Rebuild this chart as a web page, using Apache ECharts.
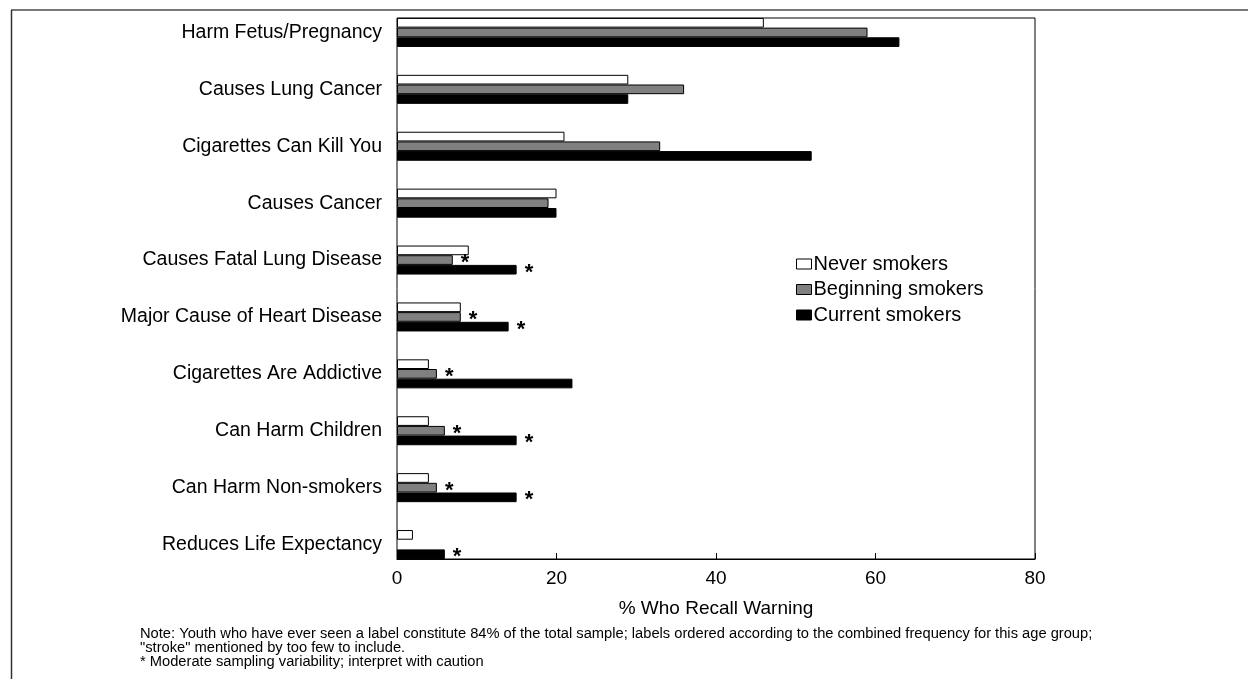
<!DOCTYPE html>
<html>
<head>
<meta charset="utf-8">
<title>Warning label recall</title>
<script src="https://cdn.jsdelivr.net/npm/echarts@6/dist/echarts.min.js"></script>
<style>
  html, body { margin: 0; padding: 0; background: #fff; }
  #chart { width: 1248px; height: 679px; }
</style>
</head>
<body>
<div id="chart"></div>
<script>
// Warning labels, listed top to bottom
const categories = [
  'Harm Fetus/Pregnancy',
  'Causes Lung Cancer',
  'Cigarettes Can Kill You',
  'Causes Cancer',
  'Causes Fatal Lung Disease',
  'Major Cause of Heart Disease',
  'Cigarettes Are Addictive',
  'Can Harm Children',
  'Can Harm Non-smokers',
  'Reduces Life Expectancy'
];

// % who recall each warning
const neverSmokers     = [46, 29, 21, 20, 9, 8, 4, 4, 4, 2];
const beginningSmokers = [59, 36, 33, 19, 7, 8, 5, 6, 5, null];
const currentSmokers   = [63, 29, 52, 20, 15, 14, 22, 15, 15, 6];

// estimates flagged for moderate sampling variability
const beginningFlagged = [false, false, false, false, true, true, true, true, true, false];
const currentFlagged   = [false, false, false, false, true, true, false, true, true, true];

const xTicks = [0, 20, 40, 60, 80];

const FONT = '"Liberation Sans", Arial, Helvetica, sans-serif';

function withFlags(values, flags) {
  return values.map((v, i) => ({
    value: v,
    label: { show: flags[i] && v != null }
  }));
}

const chart = echarts.init(document.getElementById('chart'), null, { renderer: 'canvas' });

const starLabel = {
  position: 'right',
  distance: 8,
  formatter: '*',
  color: '#000',
  fontFamily: FONT,
  fontSize: 22,
  fontWeight: 'bold',
  offset: [0, 3]
};

chart.setOption({
  animation: false,
  backgroundColor: '#fff',
  legend: {
    orient: 'vertical',
    left: 791,
    top: 249,
    itemGap: 5.5,
    itemWidth: 15,
    itemHeight: 10,
    icon: 'rect',
    textStyle: { fontFamily: FONT, fontSize: 20, color: '#000', padding: [0, 0, 0, -3] },
    data: [
      { name: 'Never smokers', itemStyle: { color: '#fff', borderColor: '#000', borderWidth: 1 } },
      { name: 'Beginning smokers', itemStyle: { color: '#808080', borderColor: '#000', borderWidth: 1 } },
      { name: 'Current smokers', itemStyle: { color: '#000', borderColor: '#000', borderWidth: 1 } }
    ]
  },
  grid: [
    // framed plot area with the value axis
    { left: 397, right: 213, top: 18, bottom: 120, show: true, borderColor: '#000', borderWidth: 1, containLabel: false },
    // band layout for the grouped bars
    { left: 397, right: 213, top: 4, bottom: 106, containLabel: false }
  ],
  xAxis: [
    {
      gridIndex: 0,
      type: 'value',
      min: xTicks[0],
      max: xTicks[xTicks.length - 1],
      interval: 20,
      name: '% Who Recall Warning',
      nameLocation: 'middle',
      nameGap: 40,
      nameTextStyle: { fontFamily: FONT, fontSize: 19, color: '#000' },
      axisLine: { show: true, lineStyle: { color: '#000', width: 1 } },
      axisTick: { show: true, inside: true, length: 6, lineStyle: { color: '#000' } },
      axisLabel: { fontFamily: FONT, fontSize: 19, color: '#000', margin: 10 },
      splitLine: { show: false }
    },
    {
      gridIndex: 1,
      type: 'value',
      min: xTicks[0],
      max: xTicks[xTicks.length - 1],
      show: false
    }
  ],
  yAxis: [
    {
      gridIndex: 0,
      type: 'value',
      show: false,
      min: 0,
      max: 1
    },
    {
      gridIndex: 1,
      type: 'category',
      inverse: true,
      data: categories,
      axisLine: { show: false },
      axisTick: { show: false },
      axisLabel: { fontFamily: FONT, fontSize: 19.5, color: '#000', margin: 15 }
    }
  ],
  series: [
    {
      name: 'Never smokers',
      type: 'bar',
      xAxisIndex: 1,
      yAxisIndex: 1,
      data: neverSmokers,
      barGap: '0%',
      barCategoryGap: '49%',
      itemStyle: { color: '#fff', borderColor: '#000', borderWidth: 1 }
    },
    {
      name: 'Beginning smokers',
      type: 'bar',
      xAxisIndex: 1,
      yAxisIndex: 1,
      data: withFlags(beginningSmokers, beginningFlagged),
      barGap: '0%',
      barCategoryGap: '49%',
      itemStyle: { color: '#808080', borderColor: '#000', borderWidth: 1 },
      label: starLabel
    },
    {
      name: 'Current smokers',
      type: 'bar',
      xAxisIndex: 1,
      yAxisIndex: 1,
      data: withFlags(currentSmokers, currentFlagged),
      barGap: '0%',
      barCategoryGap: '49%',
      itemStyle: { color: '#000', borderColor: '#000', borderWidth: 1 },
      label: starLabel
    }
  ],
  graphic: [
    // page frame
    { type: 'line', shape: { x1: 11, y1: 10, x2: 1248, y2: 10 }, style: { stroke: '#777', lineWidth: 2 } },
    { type: 'line', shape: { x1: 11.5, y1: 10, x2: 11.5, y2: 679 }, style: { stroke: '#333', lineWidth: 1.5 } },
    {
      type: 'text',
      left: 140,
      top: 626,
      style: {
        text: 'Note: Youth who have ever seen a label constitute 84% of the total sample; labels ordered according to the combined frequency for this age group;\n"stroke" mentioned by too few to include.\n* Moderate sampling variability; interpret with caution',
        fontFamily: FONT,
        fontSize: 14.7,
        lineHeight: 14,
        fill: '#000'
      }
    }
  ]
});
</script>
</body>
</html>
